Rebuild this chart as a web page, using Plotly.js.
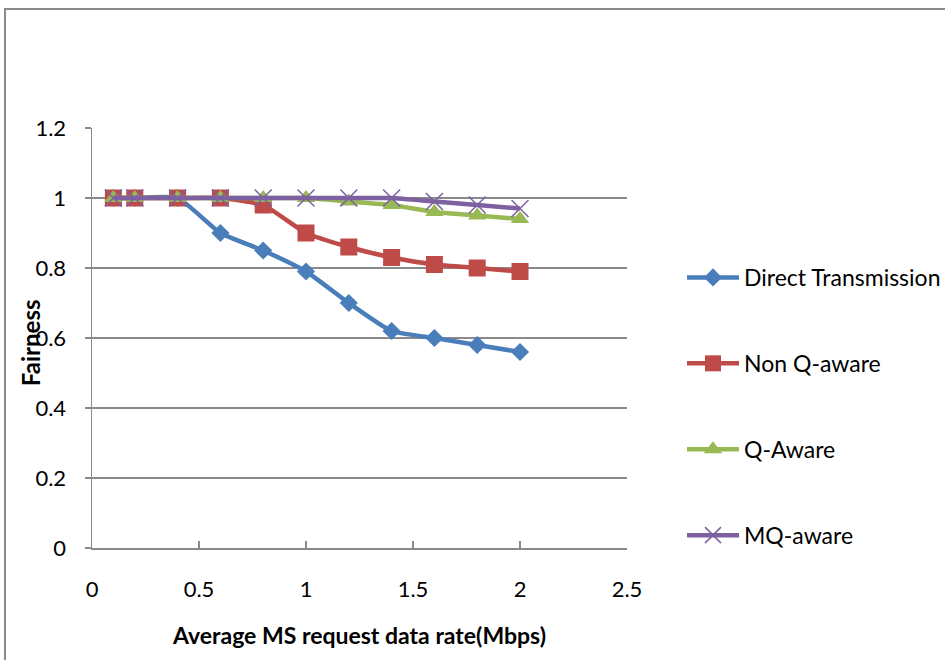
<!DOCTYPE html>
<html>
<head>
<meta charset="utf-8">
<script src="https://cdn.plot.ly/plotly-3.0.1.min.js"></script>
<style>html,body{margin:0;padding:0;background:#fff;}#chart{width:945px;height:660px;}</style>
</head>
<body>
<div id="chart"></div>
<script>
const rates = [0.1, 0.2, 0.4, 0.6, 0.8, 1.0, 1.2, 1.4, 1.6, 1.8, 2.0];
const directTransmission = [1, 1, 1, 0.90, 0.85, 0.79, 0.70, 0.62, 0.60, 0.58, 0.56];
const nonQAware = [1, 1, 1, 1, 0.98, 0.90, 0.86, 0.83, 0.81, 0.80, 0.79];
const qAware = [1, 1, 1, 1, 1, 1, 0.99, 0.98, 0.96, 0.95, 0.94];
const mqAware = [1, 1, 1, 1, 1, 1, 1, 1, 0.99, 0.98, 0.97];
const seriesNames = ["Direct Transmission", "Non Q-aware", "Q-Aware", "MQ-aware"];
const xTicks = [0, 0.5, 1, 1.5, 2, 2.5];
const yTicks = [0, 0.2, 0.4, 0.6, 0.8, 1, 1.2];

const font = "Lato, 'Open Sans', 'Liberation Sans', sans-serif";
function tr(y, name, color, symbol, size, group, mline) {
  return {
    x: rates, y: y, name: name, type: "scatter", mode: "lines+markers",
    legendgroup: group,
    line: {color: color, width: 4.5, shape: "spline", smoothing: 0.5},
    marker: {symbol: symbol, size: size, color: color, line: mline || {width: 0}}
  };
}
const data = [
  tr(directTransmission, seriesNames[0], "#4A7EBB", "diamond", 14, "a"),
  tr(nonQAware, seriesNames[1], "#BE4B48", "square", 17, "b"),
  tr(qAware, seriesNames[2], "#98B954", "triangle-up", 16, "c"),
  tr(mqAware, seriesNames[3], "#7D60A0", "x-thin-open", 17, "d", {width: 1.5, color: "#7D60A0"})
];
const layout = {
  width: 945, height: 660,
  margin: {l: 92, r: 318, t: 128, b: 112},
  paper_bgcolor: "#fff", plot_bgcolor: "#fff",
  font: {family: font, size: 22, color: "#000"},
  showlegend: true,
  legend: {xref: "container", yref: "container", x: 0.7217, y: 0.3841,
           xanchor: "left", yanchor: "middle", traceorder: "grouped",
           itemwidth: 52, tracegroupgap: 53, font: {family: font, size: 23, color: "#000"}},
  xaxis: {range: [0, 2.5], tickvals: xTicks, ticktext: xTicks.map(String),
          showgrid: false, zeroline: false, showline: true, linecolor: "#8a8a8a", linewidth: 1.5,
          ticks: "inside", ticklen: 7, tickcolor: "#8a8a8a", tickwidth: 1.5,
          ticklabelstandoff: 21, tickfont: {size: 22},
          title: {text: "<b>Average MS request data rate(Mbps)</b>", standoff: 27, font: {size: 23}}},
  yaxis: {range: [0, 1.2], tickvals: yTicks, ticktext: yTicks.map(String),
          showgrid: true, gridcolor: "#8a8a8a", gridwidth: 1.5, zeroline: false,
          showline: true, linecolor: "#8a8a8a", linewidth: 1.5,
          ticks: "outside", ticklen: 6, tickcolor: "#8a8a8a", tickwidth: 1.5,
          ticklabelstandoff: 14, tickfont: {size: 22}},
  annotations: [{text: "<b>Fairness</b>", textangle: -90, xref: "paper", yref: "paper",
                 x: -0.116, y: 0.49, xanchor: "center", yanchor: "middle", showarrow: false,
                 font: {family: font, size: 24, color: "#000"}}],
  shapes: [{type: "rect", xref: "paper", yref: "paper", x0: -0.1626, x1: 1.62, y0: -0.3, y1: 1.2833,
            line: {color: "#8a8a8a", width: 2}, fillcolor: "rgba(0,0,0,0)", layer: "below"}]
};
Plotly.newPlot("chart", data, layout, {displayModeBar: false, staticPlot: true});
</script>
</body>
</html>
